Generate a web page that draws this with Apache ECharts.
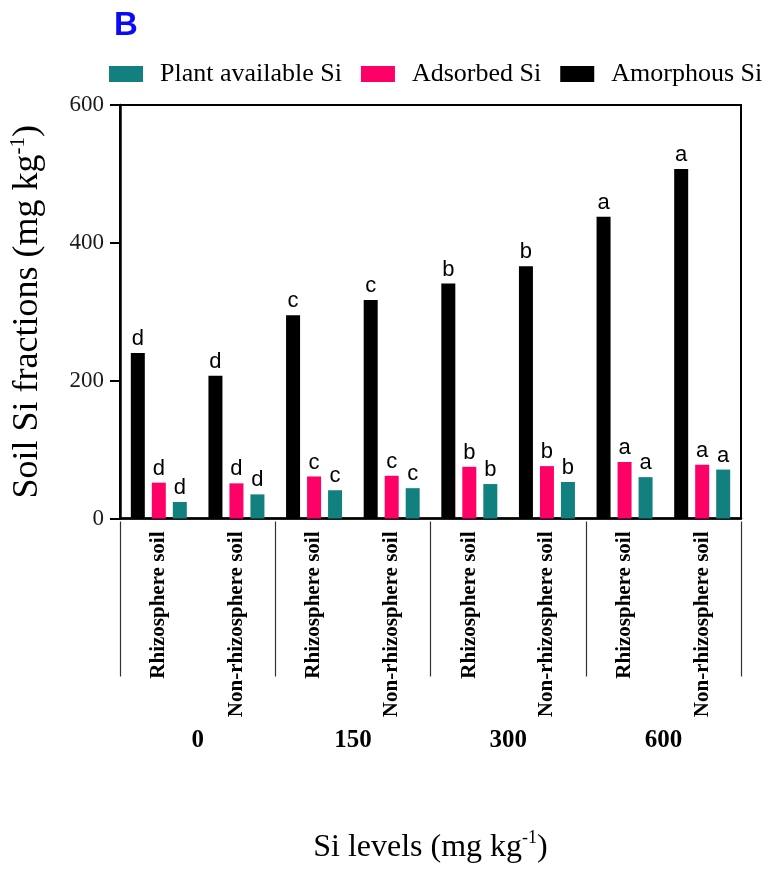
<!DOCTYPE html>
<html>
<head>
<meta charset="utf-8">
<script src="https://cdn.jsdelivr.net/npm/echarts@6/dist/echarts.min.js"></script>
<style>
  html, body { margin: 0; padding: 0; background: #ffffff; }
  #chart { width: 770px; height: 870px; }
</style>
</head>
<body>
<div id="chart"></div>
<script>
// Soil types at each Si application level
const soilTypes = [
  'Rhizosphere soil', 'Non-rhizosphere soil',
  'Rhizosphere soil', 'Non-rhizosphere soil',
  'Rhizosphere soil', 'Non-rhizosphere soil',
  'Rhizosphere soil', 'Non-rhizosphere soil'
];
// Si levels (mg kg-1), each spanning two soil types
const siLevels = ['0', '150', '300', '600'];

// Si fractions (mg kg-1)
const amorphousSi = [240, 207, 295, 317, 341, 366, 438, 507];
const adsorbedSi = [52, 51, 61, 62, 75, 76, 82, 78];
const plantAvailableSi = [24, 35, 41, 44, 50, 53, 60, 71];

// Significance letters
const amorphousLetters = ['d', 'd', 'c', 'c', 'b', 'b', 'a', 'a'];
const adsorbedLetters = ['d', 'd', 'c', 'c', 'b', 'b', 'a', 'a'];
const plantAvailableLetters = ['d', 'd', 'c', 'c', 'b', 'b', 'a', 'a'];

const yTicks = [0, 200, 400, 600];

const SERIF = '"Liberation Serif", "Times New Roman", serif';
const SANS = '"Liberation Sans", Arial, sans-serif';

function barLabel(letters) {
  return {
    show: true,
    position: 'top',
    distance: 3,
    fontFamily: SANS,
    fontSize: 22,
    color: '#000',
    formatter: p => letters[p.dataIndex]
  };
}

const chart = echarts.init(document.getElementById('chart'), null, { renderer: 'canvas' });

chart.setOption({
  backgroundColor: '#ffffff',
  animation: false,
  title: {
    text: 'B',
    left: 109,
    top: 4,
    textStyle: { fontFamily: SANS, fontWeight: 'bold', fontSize: 33, color: '#0A0AF5' }
  },
  legend: {
    data: ['Plant available Si', 'Adsorbed Si', 'Amorphous Si'],
    left: 104,
    top: 56,
    itemWidth: 34,
    itemHeight: 16,
    itemGap: 19,
    icon: 'rect',
    textStyle: { fontFamily: SERIF, fontSize: 26, color: '#000', padding: [0, 0, 0, 12] }
  },
  grid: {
    left: 117,
    right: 29,
    top: 105,
    bottom: 351.5,
    show: true,
    borderColor: '#000',
    borderWidth: 2
  },
  xAxis: [
    {
      type: 'category',
      data: soilTypes,
      axisLine: { lineStyle: { color: '#000', width: 2.5 } },
      axisTick: { alignWithLabel: true, length: 7, lineStyle: { color: '#000', width: 2 } },
      axisLabel: {
        rotate: 90,
        margin: 13,
        interval: 0,
        fontFamily: SERIF,
        fontWeight: 'bold',
        fontSize: 21,
        color: '#000'
      },
      name: '{t|Si levels (mg kg}{s|-1}{t|)}',
      nameLocation: 'middle',
      nameGap: 311,
      nameTextStyle: {
        rich: {
          t: { fontFamily: SERIF, fontSize: 32, color: '#000', lineHeight: 36 },
          s: { fontFamily: SERIF, fontSize: 18, color: '#000', verticalAlign: 'top', lineHeight: 36, padding: [0, 0, 14, 0] }
        }
      }
    },
    {
      type: 'category',
      data: siLevels,
      position: 'bottom',
      offset: 3,
      axisLine: { show: false },
      axisTick: { show: true, length: 155, lineStyle: { color: '#333', width: 1.2 } },
      axisLabel: {
        margin: 207,
        fontFamily: SERIF,
        fontWeight: 'bold',
        fontSize: 25,
        color: '#000'
      }
    }
  ],
  yAxis: {
    type: 'value',
    min: 0,
    max: 600,
    interval: 200,
    splitLine: { show: false },
    axisLine: { show: true, lineStyle: { color: '#000', width: 2.5 } },
    axisTick: { show: true, length: 10, lineStyle: { color: '#000', width: 2 } },
    axisLabel: {
      margin: 16,
      fontFamily: SERIF,
      fontSize: 23,
      color: '#1a1a1a',
      formatter: v => (yTicks.indexOf(v) >= 0 ? String(v) : '')
    },
    name: '{t|Soil Si fractions (mg kg}{s|-1}{t|)}',
    nameLocation: 'middle',
    nameGap: 72,
    nameTextStyle: {
      rich: {
        t: { fontFamily: SERIF, fontSize: 36, color: '#000', lineHeight: 40 },
        s: { fontFamily: SERIF, fontSize: 21, color: '#000', verticalAlign: 'top', lineHeight: 40, padding: [0, 0, 16, 0] }
      }
    }
  },
  series: [
    {
      name: 'Amorphous Si',
      type: 'bar',
      data: amorphousSi,
      barWidth: 14,
      barGap: '50%',
      itemStyle: { color: '#000000' },
      label: barLabel(amorphousLetters)
    },
    {
      name: 'Adsorbed Si',
      type: 'bar',
      data: adsorbedSi,
      barWidth: 14,
      barGap: '50%',
      itemStyle: { color: '#FF0066' },
      label: barLabel(adsorbedLetters)
    },
    {
      name: 'Plant available Si',
      type: 'bar',
      data: plantAvailableSi,
      barWidth: 14,
      barGap: '50%',
      itemStyle: { color: '#138080' },
      label: barLabel(plantAvailableLetters)
    }
  ]
});
</script>
</body>
</html>
